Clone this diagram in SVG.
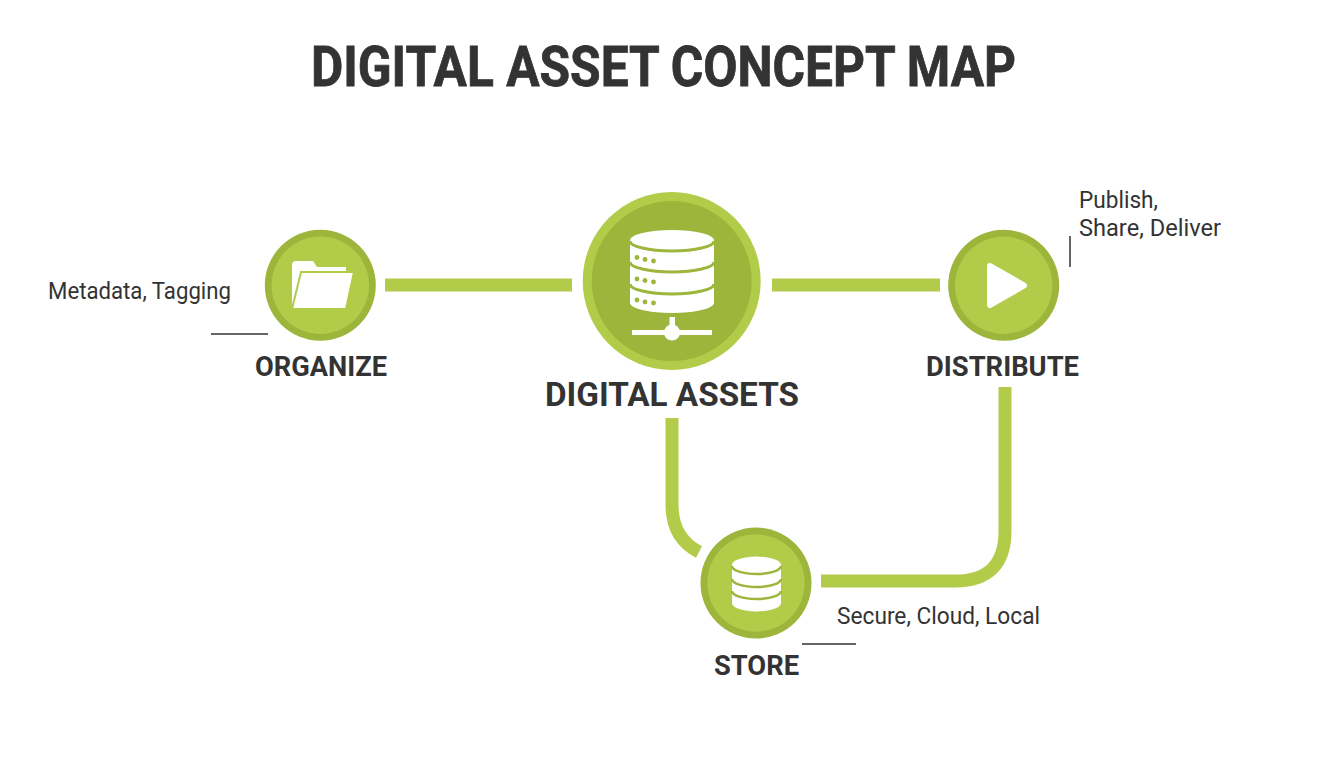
<svg xmlns="http://www.w3.org/2000/svg" width="1344" height="768" viewBox="0 0 1344 768">
<style>
text{font-family:"Roboto","Liberation Sans",sans-serif;fill:#333333}
.b{font-weight:700}
.t{font-size:56px;stroke:#333333;stroke-width:.8}
.h{font-size:33px}
.l{font-size:27px}
.n{font-size:23px}
.light{fill:#b2cc4a}
.dark{fill:#9cb53a}
.w{fill:#ffffff}
.c{fill:none;stroke:#b2cc4a;stroke-width:13}
.k{fill:none;stroke:#333333;stroke-width:1.5}
.s{fill:none;stroke:#9cb53a;stroke-width:3}
.s2{fill:none;stroke:#9cb53a;stroke-width:2.5}
</style>
<rect width="1344" height="768" fill="#ffffff"/>
<text id="title" class="b t" x="311" y="86" textLength="705" lengthAdjust="spacingAndGlyphs">DIGITAL ASSET CONCEPT MAP</text>
<g id="connectors">
<path class="c" d="M385 285H572"/>
<path class="c" d="M772 285H940"/>
<path class="c" d="M672 418V505Q672 538 699 552"/>
<path class="c" d="M821 581H955Q1005 581 1005 531V387"/>
</g>
<g id="node-digital-assets">
<circle class="light" cx="671.7" cy="281" r="89"/>
<circle class="dark" cx="671.7" cy="281" r="80"/>
<path class="w" d="M630 240A42 10 0 0 1 714 240V303A42 10 0 0 1 630 303Z"/>
<path class="s" d="M630 241A42 10 0 0 0 714 241"/>
<path class="s" d="M630 262A42 10 0 0 0 714 262"/>
<path class="s" d="M630 284A42 10 0 0 0 714 284"/>
<g class="dark">
<circle cx="637" cy="257.5" r="2.4"/><circle cx="645" cy="259.5" r="2.4"/><circle cx="653.500" cy="261" r="2.4"/>
<circle cx="637" cy="279" r="2.4"/><circle cx="645" cy="280.500" r="2.4"/><circle cx="653.500" cy="282" r="2.4"/>
<circle cx="637" cy="300" r="2.4"/><circle cx="645" cy="302" r="2.4"/><circle cx="653.500" cy="303" r="2.4"/>
</g>
<rect class="w" x="669.500" y="317" width="5.500" height="12"/>
<rect class="w" x="632" y="330" width="80" height="5"/>
<circle class="w" cx="672" cy="332.500" r="8"/>
<text class="b h" x="545" y="406" textLength="254" lengthAdjust="spacingAndGlyphs">DIGITAL ASSETS</text>
</g>
<g id="node-organize">
<circle class="dark" cx="320.300" cy="285.300" r="55.500"/>
<circle class="light" cx="320.300" cy="285.300" r="48.700"/>
<path class="w" d="M292 265Q292 261 296 261H313L317 267H346V272H304L296 304H292Z"/>
<path class="w" stroke="#b2cc4a" stroke-width="2" d="M301 272H354L346 309H292Z"/>
<text class="b l" x="255" y="376" textLength="132" lengthAdjust="spacingAndGlyphs">ORGANIZE</text>
<text class="n" x="48" y="299" textLength="183" lengthAdjust="spacingAndGlyphs">Metadata, Tagging</text>
<path class="k" d="M211 334H268"/>
</g>
<g id="node-distribute">
<circle class="dark" cx="1003.700" cy="285.300" r="55.500"/>
<circle class="light" cx="1003.700" cy="285.300" r="48.700"/>
<path class="w" stroke="#ffffff" stroke-width="6" stroke-linejoin="round" d="M990 266L1024 285.500L990 305Z"/>
<text class="b l" x="926" y="376" textLength="153" lengthAdjust="spacingAndGlyphs">DISTRIBUTE</text>
<text class="n" x="1079" y="208" textLength="79" lengthAdjust="spacingAndGlyphs">Publish,</text>
<text class="n" x="1079" y="236" textLength="142" lengthAdjust="spacingAndGlyphs">Share, Deliver</text>
<path class="k" d="M1070 236V267"/>
</g>
<g id="node-store">
<circle class="dark" cx="756" cy="583" r="55.500"/>
<circle class="light" cx="756" cy="583" r="48.700"/>
<path class="w" d="M732 565A24.500 8.500 0 0 1 781 565V603A24.500 8.500 0 0 1 732 603Z"/>
<path class="s2" d="M732 566A24.500 8 0 0 0 781 566"/>
<path class="s2" d="M732 579A24.500 8 0 0 0 781 579"/>
<path class="s2" d="M732 591A24.500 8 0 0 0 781 591"/>
<text class="b l" x="714" y="675" textLength="85" lengthAdjust="spacingAndGlyphs">STORE</text>
<text class="n" x="837" y="624" textLength="203" lengthAdjust="spacingAndGlyphs">Secure, Cloud, Local</text>
<path class="k" d="M802 644H856"/>
</g>
</svg>
